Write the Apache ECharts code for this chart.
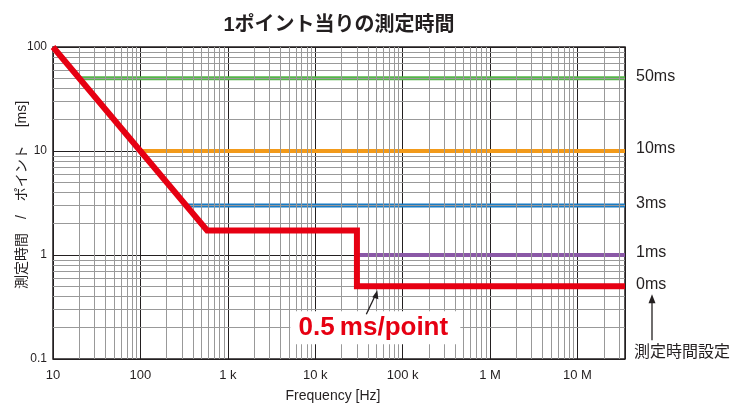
<!DOCTYPE html>
<html><head><meta charset="utf-8">
<script src="https://cdn.jsdelivr.net/npm/echarts@6/dist/echarts.min.js"></script>
<style>html,body{margin:0;padding:0;background:#fff}#c{width:731px;height:403px}</style>
</head><body><div id="c"></div>
<script>
const FONT = "'Liberation Sans', Arial, 'Noto Sans CJK JP', sans-serif";
const titleText = '1ポイント当りの測定時間';
const xName = 'Frequency [Hz]';
const yName = '測定時間\u3000/\u3000ポイント \u3000[ms]';
const freqTicks = [10, 100, 1e3, 1e4, 1e5, 1e6, 1e7];
const freqTickLabels = ['10', '100', '1 k', '10 k', '100 k', '1 M', '10 M'];
const timeTicks = [0.1, 1, 10, 100];
const timeTickLabels = ['0.1', '1', '10', '100'];
const freqMin = 10, freqMax = 3.5e7;
const timeMin = 0.1, timeMax = 100;
const minorSteps = [2, 3, 4, 5, 6, 7, 8, 9];

// measurement-time settings (horizontal lines) and actual time per point (red)
const set50ms = [[20, 50], [3.5e7, 50]];
const set10ms = [[100, 10], [3.5e7, 10]];
const set3ms = [[333, 3], [3.5e7, 3]];
const set1ms = [[30000, 1], [3.5e7, 1]];
const set0ms = [[10, 100], [580, 1.72], [30000, 1.72], [30000, 0.5], [3.5e7, 0.5]];
const settingLabels = ['50ms', '10ms', '3ms', '1ms', '0ms'];
const annotationText = '0.5\u2009ms/point';
const annotationAnchor = [50000, 0.5];
const settingCaption = '測定時間設定';

const colors = { green: '#55b548', orange: '#f29a1a', blue: '#1a7bc3', purple: '#8a58a6', red: '#e60012', ink: '#231f20' };

function tickLabel(v, ticks, labels) {
  for (let i = 0; i < ticks.length; i++) {
    if (Math.abs(Math.log10(v) - Math.log10(ticks[i])) < 1e-6) return labels[i];
  }
  return '';
}
const xMinor = [];
freqTicks.forEach(d => minorSteps.forEach(s => { if (d * s < freqMax) xMinor.push(d * s); }));
const yMinor = [];
timeTicks.forEach(d => minorSteps.forEach(s => { if (d * s < timeMax) yMinor.push(d * s); }));

const chart = echarts.init(document.getElementById('c'));

function hLine(data, color, width, label) {
  return {
    type: 'line', data: data, showSymbol: false, symbol: 'none', z: 4,
    lineStyle: { color: color, width: width, cap: 'butt', join: 'miter' },
    endLabel: { show: true, formatter: label, distance: 11, offset: [0, -2], color: colors.ink, fontSize: 16, fontFamily: FONT },
    animation: false
  };
}

chart.setOption({
  animation: false,
  textStyle: { fontFamily: FONT },
  grid: { left: 53, right: 106, top: 47, bottom: 44, show: true, borderColor: colors.ink, borderWidth: 1.5, backgroundColor: 'transparent', containLabel: false, outerBoundsMode: 'none' },
  xAxis: {
    type: 'log', logBase: 10, min: freqMin, max: freqMax, interval: 1,
    name: xName, nameLocation: 'middle', nameGap: 30, nameMoveOverlap: false,
    nameTextStyle: { color: colors.ink, fontSize: 14, fontFamily: FONT, padding: [0, 12, 0, 0] },
    axisLine: { show: false }, axisTick: { show: false },
    axisLabel: { color: colors.ink, fontSize: 13, margin: 10, fontFamily: FONT, formatter: v => tickLabel(v, freqTicks, freqTickLabels) },
    splitLine: { show: true, lineStyle: { color: colors.ink, width: 1 } }
  },
  yAxis: {
    type: 'log', logBase: 10, min: timeMin, max: timeMax, interval: 1,
    name: yName, nameLocation: 'middle', nameGap: 24, nameRotate: 90, nameMoveOverlap: false,
    nameTextStyle: { color: colors.ink, fontSize: 14, fontFamily: FONT, padding: [0, 0, 0, 16] },
    axisLine: { show: false }, axisTick: { show: false },
    axisLabel: { color: colors.ink, fontSize: 12, margin: 6, fontFamily: FONT, formatter: v => tickLabel(v, timeTicks, timeTickLabels) },
    splitLine: { show: true, lineStyle: { color: colors.ink, width: 1 } }
  },
  series: [
    {
      type: 'line', data: [[freqMin, timeMin]], showSymbol: false, symbol: 'none', z: 1,
      lineStyle: { opacity: 0 },
      markLine: {
        silent: true, symbol: ['none', 'none'], label: { show: false }, animation: false,
        lineStyle: { color: '#999999', width: 1, type: 'solid' },
        data: xMinor.map(v => ({ xAxis: v })).concat(yMinor.map(v => ({ yAxis: v })))
      }
    },
    hLine(set50ms, colors.green, 4, settingLabels[0]),
    hLine(set10ms, colors.orange, 4, settingLabels[1]),
    hLine(set3ms, colors.blue, 4, settingLabels[2]),
    hLine(set1ms, colors.purple, 4, settingLabels[3]),
    Object.assign(hLine(set0ms, colors.red, 6, settingLabels[4]), { z: 6 })
  ]
});

const a = chart.convertToPixel({ gridIndex: 0 }, annotationAnchor);
const endPt = chart.convertToPixel({ gridIndex: 0 }, [freqMax, annotationAnchor[1]]);
chart.setOption({
  graphic: [
    { type: 'text', z: 100, style: { text: titleText, x: 339, y: 25, align: 'center', verticalAlign: 'middle', textAlign: 'center', textVerticalAlign: 'middle', font: 'bold 20px ' + FONT, fill: colors.ink } },
    { type: 'rect', z: 100, shape: { x: a[0] - 86, y: a[1] + 25, width: 170, height: 33 }, style: { fill: '#ffffff' } },
    { type: 'text', z: 101, style: { text: annotationText, x: a[0] - 3, y: a[1] + 42, align: 'center', verticalAlign: 'middle', textAlign: 'center', textVerticalAlign: 'middle', font: 'bold 26px ' + FONT, fill: colors.red } },
    { type: 'line', z: 101, shape: { x1: a[0] - 10, y1: a[1] + 28, x2: a[0] - 1, y2: a[1] + 9 }, style: { stroke: colors.ink, lineWidth: 1.3 } },
    { type: 'polygon', z: 101, shape: { points: [[a[0] + 1, a[1] + 4], [a[0] - 4, a[1] + 11], [a[0] + 2, a[1] + 13]] }, style: { fill: colors.ink } },
    { type: 'line', z: 101, shape: { x1: endPt[0] + 27, y1: endPt[1] + 54, x2: endPt[0] + 27, y2: endPt[1] + 15 }, style: { stroke: colors.ink, lineWidth: 1.3 } },
    { type: 'polygon', z: 101, shape: { points: [[endPt[0] + 27, endPt[1] + 8], [endPt[0] + 23.5, endPt[1] + 17], [endPt[0] + 30.5, endPt[1] + 17]] }, style: { fill: colors.ink } },
    { type: 'text', z: 101, style: { text: settingCaption, x: endPt[0] + 9, y: endPt[1] + 66, align: 'left', verticalAlign: 'middle', textAlign: 'left', textVerticalAlign: 'middle', font: '16px ' + FONT, fill: colors.ink } }
  ]
});
</script></body></html>
